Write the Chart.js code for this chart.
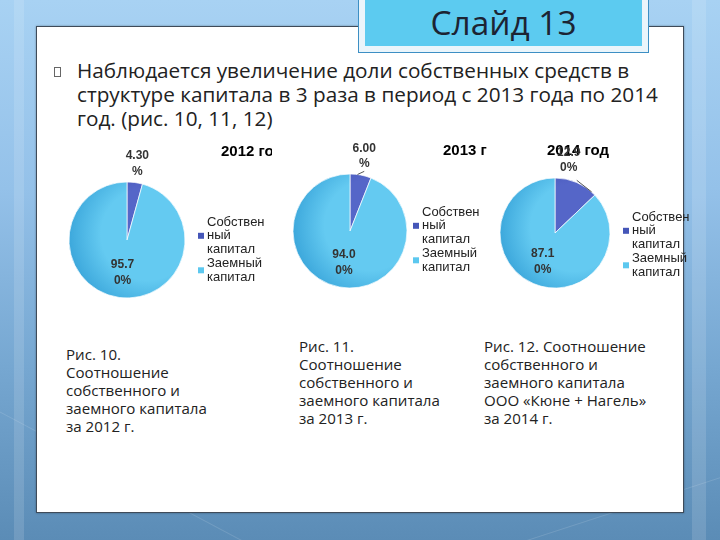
<!DOCTYPE html>
<html lang="ru">
<head>
<meta charset="utf-8">
<title>Слайд 13</title>
<script src="https://cdn.jsdelivr.net/npm/chart.js@4.4.1/dist/chart.umd.min.js"></script>
<style>
  html, body { margin: 0; padding: 0; }
  body {
    width: 720px; height: 540px; overflow: hidden; position: relative;
    background: linear-gradient(180deg, #a8d2f3 0%, #94c1e9 35%, #76a7d1 68%, #5b8cb6 100%);
    font-family: "Open Sans", sans-serif;
    color: #222;
  }
  .streak { position: absolute; background: rgba(255,255,255,0.13); }
  #panel {
    position: absolute; left: 36px; top: 26px; width: 646px; height: 485px;
    background: #fff; border: 1px solid #3f4b59;
    box-shadow: 0 0 2px rgba(0,0,0,0.35);
  }
  #titleBox {
    position: absolute; left: 359px; top: -12px; width: 289px; height: 64px;
    box-sizing: border-box; background: #5ccbf0;
    border: 6px solid #eaf5fb; outline: 1px solid #3d8fc4;
  }
  #titleText {
    position: absolute; left: 359px; top: 0; width: 289px; height: 44px;
    line-height: 44px; text-align: center; color: #1c2433;
  }
  #bullet {
    position: absolute; left: 54px; top: 67px; width: 5px; height: 8px;
    border: 1px solid #666;
  }
  #bodyText {
    position: absolute; left: 77px; top: 58px; line-height: 24px; white-space: nowrap;
  }
  .caption {
    position: absolute; line-height: 18px; white-space: nowrap; color: #222;
  }
  canvas { position: absolute; }
</style>
</head>
<body>
  <div class="streak" style="left:14px;top:0;width:10px;height:540px;"></div>
  <div class="streak" style="left:692px;top:0;width:14px;height:540px;"></div>
  <div class="streak" style="left:-40px;top:470px;width:300px;height:1px;transform:rotate(28deg);"></div>
  <div class="streak" style="left:520px;top:500px;width:260px;height:1px;transform:rotate(-18deg);"></div>

  <div id="panel"></div>
  <div id="titleBox"></div>
  <div id="titleText">Слайд 13</div>

  <div id="bullet"></div>
  <div id="bodyText">
    <div>Наблюдается увеличение доли собственных средств в</div>
    <div>структуре капитала в 3 раза в период с 2013 года по 2014</div>
    <div>год. (рис. 10, 11, 12)</div>
  </div>

  <canvas id="pie2012" width="217" height="185" style="left:55px;top:130px;"></canvas>
  <canvas id="pie2013" width="212" height="185" style="left:275px;top:130px;"></canvas>
  <canvas id="pie2014" width="222" height="185" style="left:478px;top:130px;"></canvas>

  <div class="caption" style="left:66px;top:345px;">Рис. 10.<br>Соотношение<br>собственного и<br>заемного капитала<br>за 2012 г.</div>
  <div class="caption" style="left:299px;top:337px;">Рис. 11.<br>Соотношение<br>собственного и<br>заемного капитала<br>за 2013 г.</div>
  <div class="caption" style="left:484px;top:337px;">Рис. 12. Соотношение<br>собственного и<br>заемного капитала<br>ООО «Кюне + Нагель»<br>за 2014 г.</div>

<script>
// --- data (percent of total capital)
const years = ['2012', '2013', '2014'];
const categories = ['Собственный капитал', 'Заемный капитал'];
const ownCapital = [4.3, 6.0, 12.9];
const borrowedCapital = [95.7, 94.0, 87.1];

const FONT = '"Liberation Sans", Arial, sans-serif';

// fit html text to the width it had on the slide
function fitText(el, sample, width) {
  const c = document.createElement('canvas').getContext('2d');
  c.font = '100px ' + getComputedStyle(el).fontFamily;
  el.style.fontSize = (100 * width / c.measureText(sample).width).toFixed(2) + 'px';
}
fitText(document.getElementById('bodyText'), 'структуре капитала в 3 раза в период с 2013 года по 2014', 581);
fitText(document.getElementById('titleText'), 'Слайд 13', 146);
document.querySelectorAll('.caption').forEach(el => fitText(el, 'заемного капитала', 141));

// where each pie sits on the page
const boxes = [
  { id: 'pie2012', left: 55, top: 130, w: 217, h: 185, cx: 127, cy: 240, r: 58,
    titleX: 221, titleY: 152, legendX: 198, legendY: 222, shift: 0, leader: null },
  { id: 'pie2013', left: 275, top: 130, w: 212, h: 185, cx: 350, cy: 231, r: 57,
    titleX: 443, titleY: 151, legendX: 413, legendY: 212, shift: 0, leader: { frac: 0.35, dx: 0, dy: 15 } },
  { id: 'pie2014', left: 478, top: 130, w: 222, h: 185, cx: 555, cy: 233, r: 55,
    titleX: 547, titleY: 151, legendX: 623, legendY: 217, shift: -12.5, leader: { frac: 0.9, dx: 8, dy: 20 } }
];

function wrapText(ctx, text, maxW) {
  const lines = [];
  let cur = '';
  for (const word of text.split(' ')) {
    const test = cur ? cur + ' ' + word : word;
    if (ctx.measureText(test).width <= maxW) { cur = test; continue; }
    if (cur) lines.push(cur);
    cur = '';
    for (const ch of word) {
      if (ctx.measureText(cur + ch).width > maxW && cur) { lines.push(cur); cur = ''; }
      cur += ch;
    }
  }
  if (cur) lines.push(cur);
  return lines;
}

// "4.30%" -> ["4.30", "%"], "95.70%" -> ["95.7", "0%"]  (narrow label box like in the original)
function splitLabel(v) {
  const s = v.toFixed(2) + '%';
  return [s.slice(0, 4), s.slice(4)];
}

const pieDecor = {
  id: 'pieDecor',
  afterDatasetsDraw(chart, args, opts) {
    const ctx = chart.ctx;
    const b = opts.box;
    const arcs = chart.getDatasetMeta(0).data;
    const values = chart.data.datasets[0].data;
    ctx.save();

    // title
    ctx.font = 'bold 15px ' + FONT;
    ctx.fillStyle = '#000';
    ctx.textAlign = 'left';
    ctx.textBaseline = 'middle';
    ctx.fillText(opts.title, b.titleX - b.left, b.titleY - b.top);

    // slice labels
    ctx.font = 'bold 12px ' + FONT;
    ctx.fillStyle = '#333';
    ctx.textAlign = 'center';
    arcs.forEach((arc, i) => {
      const { x, y, startAngle, endAngle, outerRadius } =
        arc.getProps(['x', 'y', 'startAngle', 'endAngle', 'outerRadius'], true);
      const mid = (startAngle + endAngle) / 2;
      let lx, ly;
      if (i === 0) {
        const a = mid + b.shift * Math.PI / 180;
        lx = x + Math.cos(a) * (outerRadius + 19);
        ly = y + Math.sin(a) * (outerRadius + 19);
        if (b.leader) {
          const la = startAngle + (endAngle - startAngle) * b.leader.frac;
          ctx.strokeStyle = '#555';
          ctx.lineWidth = 1;
          ctx.beginPath();
          ctx.moveTo(lx + b.leader.dx, ly + b.leader.dy);
          ctx.lineTo(x + Math.cos(la) * outerRadius, y + Math.sin(la) * outerRadius);
          ctx.stroke();
        }
      } else {
        lx = x + Math.cos(mid) * outerRadius * 0.57;
        ly = y + Math.sin(mid) * outerRadius * 0.57;
      }
      const lines = splitLabel(values[i]);
      lines.forEach((t, k) => ctx.fillText(t, lx, ly + (k - (lines.length - 1) / 2) * 15.5));
    });

    // legend (wrapped like the narrow office legend)
    ctx.font = '13px ' + FONT;
    ctx.textAlign = 'left';
    const lineH = 13.8;
    let ty = b.legendY - b.top;
    chart.data.labels.forEach((label, i) => {
      const lines = wrapText(ctx, label, 62);
      const midY = ty + (lines.length - 1) * lineH / 2;
      ctx.fillStyle = opts.swatches[i];
      ctx.fillRect(b.legendX - b.left, midY - 3, 6, 6);
      ctx.fillStyle = '#222';
      lines.forEach((t, k) => ctx.fillText(t, b.legendX - b.left + 9, ty + k * lineH));
      ty += lines.length * lineH;
    });
    ctx.restore();
  }
};

// slice shading: [light, dark] per slice
const shades = [['#5566c8', '#3e4db0'], ['#64caf1', '#36a2d8']];

function sliceFill(c) {
  const [from, to] = shades[c.dataIndex] || shades[1];
  const area = c.chart.chartArea;
  if (!area) return to;
  const cx = (area.left + area.right) / 2, cy = (area.top + area.bottom) / 2;
  const r = Math.min(area.right - area.left, area.bottom - area.top) / 2;
  const g = c.chart.ctx.createRadialGradient(cx + r * 0.35, cy - r * 0.1, 0, cx + r * 0.35, cy - r * 0.1, r * 1.45);
  g.addColorStop(0, from);
  g.addColorStop(0.55, from);
  g.addColorStop(1, to);
  return g;
}

boxes.forEach((b, n) => {
  new Chart(document.getElementById(b.id), {
    type: 'pie',
    data: {
      labels: categories,
      datasets: [{
        data: [ownCapital[n], borrowedCapital[n]],
        backgroundColor: sliceFill,
        borderColor: 'rgba(255,255,255,0.7)',
        borderWidth: 1,
        radius: b.r
      }]
    },
    options: {
      responsive: false,
      animation: false,
      layout: {
        padding: {
          left: b.cx - b.r - b.left,
          top: b.cy - b.r - b.top,
          right: b.w - (b.cx + b.r - b.left),
          bottom: b.h - (b.cy + b.r - b.top)
        }
      },
      plugins: {
        legend: { display: false },
        tooltip: { enabled: false },
        pieDecor: { box: b, title: years[n] + ' год', swatches: ['#4556b8', '#5cc8ef'] }
      }
    },
    plugins: [pieDecor]
  });
});
</script>
</body>
</html>
